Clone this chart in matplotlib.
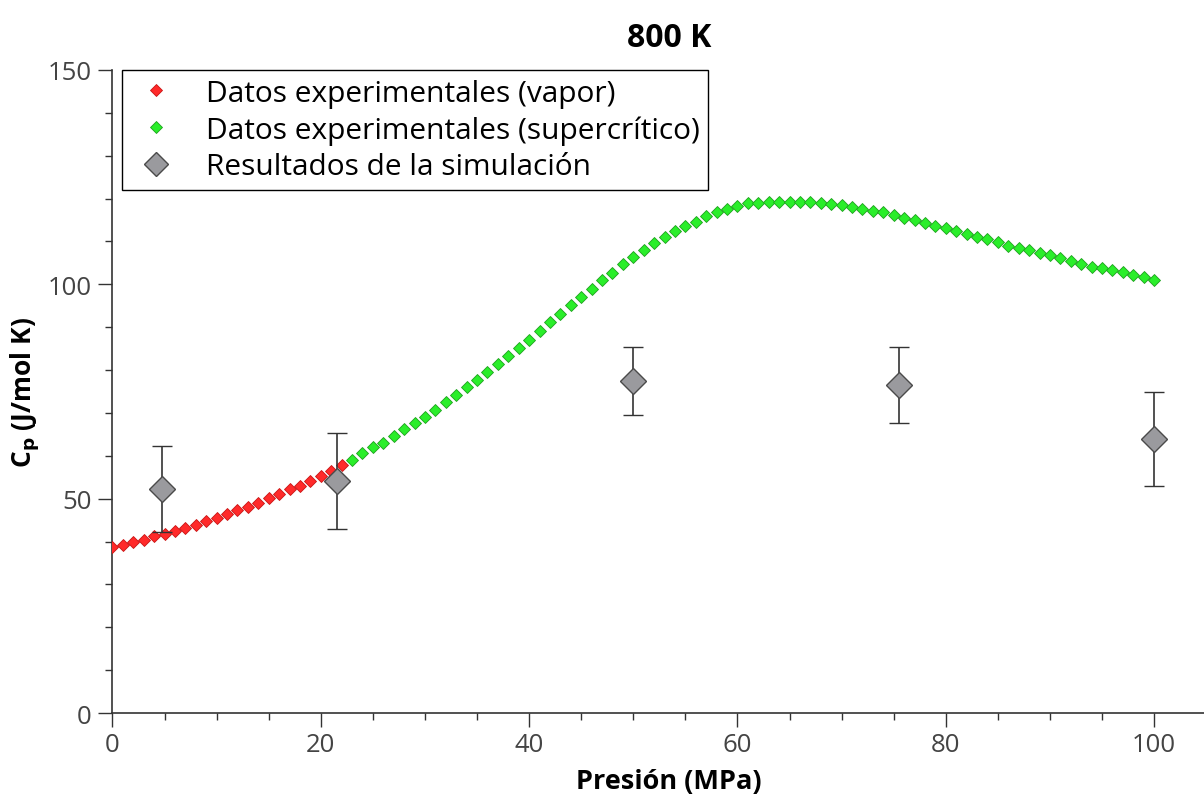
import matplotlib.pyplot as plt
from matplotlib.ticker import MultipleLocator
from matplotlib.lines import Line2D

plt.rcParams['font.family'] = ['Open Sans', 'DejaVu Sans']

# experimental data, vapour phase (MPa, J/mol K)
p_vapor = list(range(0, 23))
cp_vapor = [38.7, 39.3, 39.8, 40.4, 41.2, 41.8, 42.5, 43.2, 43.9, 44.8,
            45.6, 46.4, 47.3, 48.1, 49.1, 50.2, 51.2, 52.2, 53.0, 54.1,
            55.2, 56.5, 57.9]

# experimental data, supercritical phase
p_super = list(range(23, 101))
cp_super = [59.0, 60.6, 62.0, 63.1, 64.6, 66.2, 67.6, 69.1, 70.8, 72.5,
            74.2, 76.0, 77.7, 79.6, 81.4, 83.3, 85.1, 87.1, 89.1, 91.1,
            93.1, 95.2, 97.1, 98.9, 100.9, 102.6, 104.7, 106.4, 108.1, 109.6,
            111.0, 112.4, 113.5, 114.6, 115.9, 116.8, 117.6, 118.2, 118.9, 119.0,
            119.3, 119.3, 119.3, 119.3, 119.3, 119.0, 118.8, 118.5, 118.1, 117.6,
            117.0, 116.8, 116.2, 115.5, 114.9, 114.2, 113.6, 113.1, 112.4, 111.7,
            111.0, 110.5, 109.9, 109.0, 108.4, 107.9, 107.3, 106.8, 106.1, 105.4,
            104.7, 104.1, 103.8, 103.4, 102.9, 102.2, 101.6, 100.9]

# simulation results
p_sim = [4.8, 21.6, 50.0, 75.5, 100.0]
cp_sim = [52.3, 54.1, 77.4, 76.5, 63.9]
cp_sim_err = [10.0, 11.2, 7.9, 8.9, 10.9]

red, red_e = '#ff2a2a', '#c81414'
green, green_e = '#2aee2a', '#1ea01e'
grey, grey_e = '#9a9a9e', '#4a4a4a'

fig = plt.figure(figsize=(12.04, 8.03), dpi=100)
ax = fig.add_axes([0.0934, 0.1108, 0.924, 0.8008])

ax.plot(p_vapor, cp_vapor, 'D', ms=6.5, color=red, mec=red_e, mew=0.6, zorder=3)
ax.plot(p_super, cp_super, 'D', ms=6.5, color=green, mec=green_e, mew=0.6, zorder=3)
ax.errorbar(p_sim, cp_sim, yerr=cp_sim_err, fmt='D', ms=13, color=grey,
            mec=grey_e, mew=1.0, ecolor='#333333', elinewidth=1.2,
            capsize=7, capthick=1.2, zorder=4)

ax.set_xlim(0, 106.8)
ax.set_ylim(0, 150)
ax.xaxis.set_major_locator(MultipleLocator(20))
ax.xaxis.set_minor_locator(MultipleLocator(5))
ax.yaxis.set_major_locator(MultipleLocator(50))
ax.yaxis.set_minor_locator(MultipleLocator(10))
ax.tick_params(which='major', direction='out', length=10, width=1,
               labelsize=18.5, labelcolor='#444444', color='#333333')
ax.tick_params(axis='y', which='major', pad=5)
ax.tick_params(which='minor', direction='out', length=5, width=1, color='#333333')

for s in ['top', 'right']:
    ax.spines[s].set_visible(False)
for s in ['left', 'bottom']:
    ax.spines[s].set_color('#333333')
    ax.spines[s].set_linewidth(1.2)

ax.set_title('800 K', fontsize=23, fontweight='bold', pad=17)
ax.set_xlabel('Presión (MPa)', fontsize=19.5, fontweight='bold', labelpad=8)
ax.set_ylabel(r'C$_\mathbf{p}$ (J/mol K)', fontsize=19, fontweight='bold', labelpad=4)

handles = [
    Line2D([], [], ls='', marker='D', ms=6, color=red, mec=red_e, mew=0.6),
    Line2D([], [], ls='', marker='D', ms=6, color=green, mec=green_e, mew=0.6),
    Line2D([], [], ls='', marker='D', ms=12, color=grey, mec=grey_e, mew=1.0),
]
labels = ['Datos experimentales (vapor)', 'Datos experimentales (supercrítico)',
          'Resultados de la simulación']
leg = ax.legend(handles, labels, loc='upper left', bbox_to_anchor=(0.0085, 1.0),
                borderaxespad=0, fontsize=21.5, fancybox=False, edgecolor='black',
                framealpha=1, handletextpad=0.8, labelspacing=0.25, borderpad=0.3,
                handlelength=1.7)
leg.get_frame().set_linewidth(1.0)

fig.savefig('out.png', dpi=100)
